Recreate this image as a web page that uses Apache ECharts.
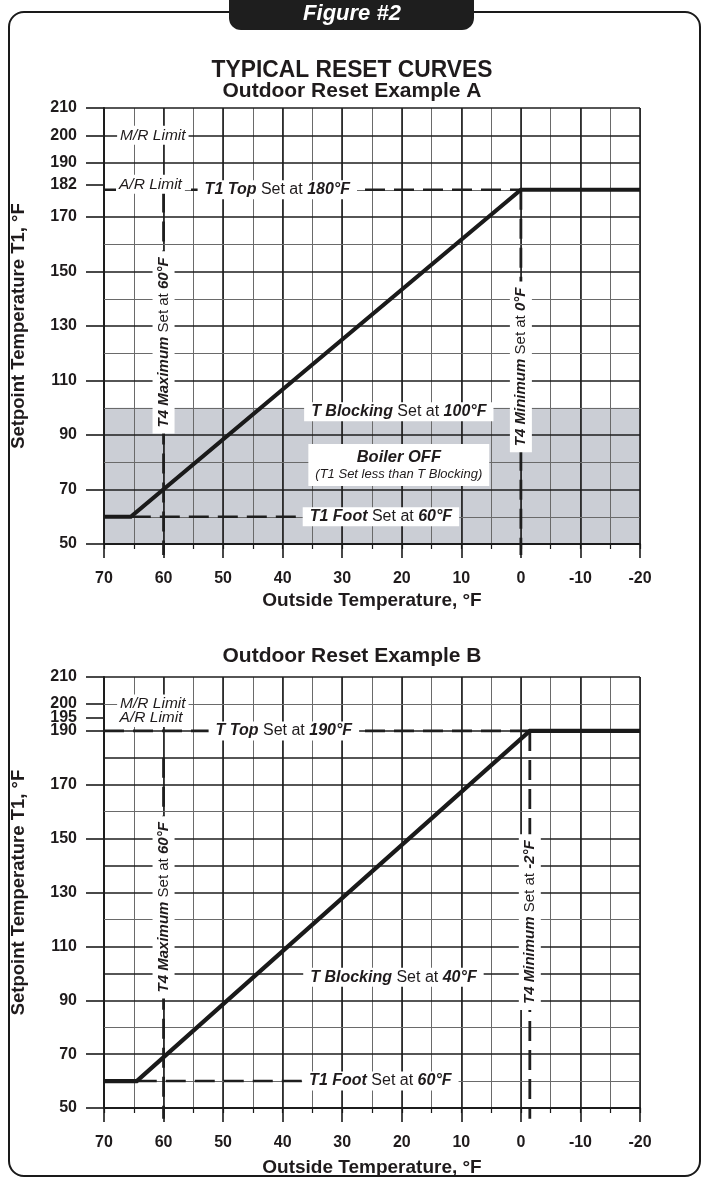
<!DOCTYPE html>
<html><head><meta charset="utf-8">
<script src="https://cdn.jsdelivr.net/npm/echarts@6/dist/echarts.min.js"></script>
<style>html,body{margin:0;padding:0;background:#fff}#c{width:704px;height:1179px}</style>
</head><body><div id="c"></div>
<script>
const FONT = "'Liberation Sans', Arial, Helvetica, sans-serif";
const INK = '#1f1b1c';

// shared axes
const xTickLabels = [70, 60, 50, 40, 30, 20, 10, 0, -10, -20];
const xMin = -20, xMax = 70;
const yMin = 50, yMax = 210;

// ---- Example A ----
const yLabelsA = [50, 70, 90, 110, 130, 150, 170, 182, 190, 200, 210];
const gridMajorA = [50, 70, 90, 110, 130, 150, 170, 190, 200, 210];
const gridMinorA = [60, 80, 100, 120, 140, 160, 180];
const resetCurveA = [[70, 60], [65.5, 60], [0, 180], [-20, 180]];
const topDashA = [[70, 180], [0, 180]];
const footDashA = [[65.5, 60], [30, 60]];
const t4MaxDashA = [[60, 179], [60, 46]];
const t4MinDashA = [[0, 180], [0, 46]];
const blockingAreaA = [50, 100];
const notesA = [
  [61.8, 200, 'M/R Limit'],
  [62.2, 182, 'A/R Limit'],
  [40.9, 180, 'T1 Top', '180°F'],
  [60, 124, 'T4 Maximum', '60°F'],
  [0, 115, 'T4 Minimum', '0°F'],
  [20.5, 98.5, 'T Blocking', '100°F'],
  [23.5, 60, 'T1 Foot', '60°F']
];
const boilerNoteA = [20.5, 79, 'Boiler OFF', '(T1 Set less than T Blocking)'];

// ---- Example B ----
const yLabelsB = [50, 70, 90, 110, 130, 150, 170, 190, 195, 200, 210];
const gridMajorB = [50, 70, 90, 100, 110, 130, 140, 150, 170, 180, 190, 210];
const gridMinorB = [60, 80, 120, 160, 200];
const resetCurveB = [[70, 60], [64.5, 60], [-1.5, 190], [-20, 190]];
const topDashB = [[70, 190], [-1.5, 190]];
const footDashB = [[64.5, 60], [30, 60]];
const t4MaxDashB = [[60, 180], [60, 46]];
const t4MinDashB = [[-1.5, 190], [-1.5, 46]];
const notesB = [
  [61.8, 200, 'M/R Limit'],
  [62.1, 195, 'A/R Limit'],
  [39.8, 190, 'T Top', '190°F'],
  [60, 124.5, 'T4 Maximum', '60°F'],
  [-1.5, 119, 'T4 Minimum', '-2°F'],
  [21.4, 98.5, 'T Blocking', '40°F'],
  [23.6, 60, 'T1 Foot', '60°F']
];

const rich = {
  b: { fontFamily: FONT, fontSize: 16, fontWeight: 'bold', fontStyle: 'italic', color: INK, lineHeight: 17 },
  n: { fontFamily: FONT, fontSize: 16, color: INK, lineHeight: 17 },
  vb: { fontFamily: FONT, fontSize: 15, fontWeight: 'bold', fontStyle: 'italic', color: INK, lineHeight: 16 },
  vn: { fontFamily: FONT, fontSize: 15, color: INK, lineHeight: 16 },
  i: { fontFamily: FONT, fontSize: 15.5, fontStyle: 'italic', color: INK, lineHeight: 15 },
  big: { fontFamily: FONT, fontSize: 16.5, fontWeight: 'bold', fontStyle: 'italic', color: INK, lineHeight: 19 },
  small: { fontFamily: FONT, fontSize: 13, fontStyle: 'italic', color: INK, lineHeight: 15 }
};

function noteItem(n) {
  const [x, y, a, b] = n;
  const vertical = a.indexOf('T4') === 0;
  let fmt, pad;
  if (b === undefined) { fmt = '{i|' + a + '}'; pad = [2, 3]; }
  else if (vertical) { fmt = '{vb|' + a + '}{vn| Set at }{vb|' + b + '}'; pad = [3, 6]; }
  else { fmt = '{b|' + a + '}{n| Set at }{b|' + b + '}'; pad = [1, 7]; }
  return {
    value: [x, y],
    label: { show: true, position: 'inside', formatter: fmt, rotate: vertical ? 90 : 0, opacity: 1,
      textBorderWidth: 0, backgroundColor: '#fff', padding: pad, align: 'center', verticalAlign: 'middle', rich: rich }
  };
}
function boilerItem(n) {
  return {
    value: [n[0], n[1]],
    label: { show: true, position: 'inside', formatter: '{big|' + n[2] + '}\n{small|' + n[3] + '}', opacity: 1,
      textBorderWidth: 0, backgroundColor: '#fff', padding: [4, 7], align: 'center', verticalAlign: 'middle', rich: rich }
  };
}

const grids = [
  { left: 104, top: 108, width: 536, height: 436 },
  { left: 104, top: 677, width: 536, height: 431 }
];

function xAxes(gi, nameGap) {
  return [
    { gridIndex: gi, type: 'value', inverse: true, min: xMin, max: xMax, interval: 10, position: 'bottom', z: 1,
      name: 'Outside Temperature, °F', nameLocation: 'middle', nameGap: nameGap,
      nameTextStyle: { fontFamily: FONT, fontSize: 19, fontWeight: 'bold', color: INK },
      axisLine: { onZero: false, lineStyle: { color: '#1a1a1a', width: 2 } },
      axisTick: { show: true, length: 14, lineStyle: { color: '#1a1a1a', width: 1.6 } },
      axisLabel: { customValues: xTickLabels, margin: 27, fontFamily: FONT, fontSize: 16, fontWeight: 'bold', color: INK },
      splitLine: { show: true, lineStyle: { color: '#1e1e1e', width: 1.6 } } },
    { gridIndex: gi, type: 'value', inverse: true, min: xMin, max: xMax, interval: 5, position: 'bottom', z: 0,
      axisLine: { show: false, onZero: false },
      axisTick: { show: true, length: 5, lineStyle: { color: '#1a1a1a', width: 1.2 } },
      axisLabel: { show: false },
      splitLine: { show: true, lineStyle: { color: '#6a6a6a', width: 1 } } }
  ];
}
function yAxis(gi, labels) {
  return { gridIndex: gi, type: 'value', min: yMin, max: yMax,
    name: 'Setpoint Temperature T1, °F', nameLocation: 'middle', nameGap: 76,
    nameTextStyle: { fontFamily: FONT, fontSize: 18.5, fontWeight: 'bold', color: INK },
    axisLine: { show: true, onZero: false, lineStyle: { color: '#1a1a1a', width: 2 } },
    axisTick: { show: true, customValues: labels, length: 18, lineStyle: { color: '#1a1a1a', width: 1.6 } },
    axisLabel: { customValues: labels, margin: 27, fontFamily: FONT, fontSize: 16, fontWeight: 'bold', color: INK },
    splitLine: { show: false } };
}

function hLines(gi, major, minor) {
  const base = { type: 'line', xAxisIndex: gi * 2, yAxisIndex: gi, data: [], silent: true };
  return [
    Object.assign({}, base, { z: 1, markLine: { silent: true, z: 1, animation: false, symbol: ['none', 'none'],
      label: { show: false }, lineStyle: { type: 'solid', color: '#6a6a6a', width: 1 },
      data: minor.map(v => ({ yAxis: v })) } }),
    Object.assign({}, base, { z: 1, markLine: { silent: true, z: 1.2, animation: false, symbol: ['none', 'none'],
      label: { show: false }, lineStyle: { type: 'solid', color: '#1e1e1e', width: 1.6 },
      data: major.map(v => ({ yAxis: v })) } })
  ];
}
function dash(gi, data, w) {
  return { type: 'line', xAxisIndex: gi * 2, yAxisIndex: gi, data: data, symbol: 'none', clip: false, z: 2,
    silent: true, lineStyle: { color: '#1e1e1e', width: w || 2.6, type: [20, 9] } };
}
function curve(gi, data) {
  return { type: 'line', xAxisIndex: gi * 2, yAxisIndex: gi, data: data, symbol: 'none', clip: false, z: 3,
    silent: true, lineStyle: { color: '#1a1a1a', width: 4.2, cap: 'butt', join: 'miter' } };
}
function notes(gi, items) {
  return { type: 'scatter', xAxisIndex: gi * 2, yAxisIndex: gi, symbolSize: 1, z: 5, silent: true,
    itemStyle: { color: 'rgba(0,0,0,0)', opacity: 1 }, data: items };
}

const series = [
  { type: 'line', xAxisIndex: 0, yAxisIndex: 0, data: [], z: -1, silent: true,
    markArea: { silent: true, z: -1, itemStyle: { color: '#cbced5' },
      data: [[{ yAxis: blockingAreaA[0] }, { yAxis: blockingAreaA[1] }]] } },
  ...hLines(0, gridMajorA, gridMinorA),
  dash(0, topDashA), dash(0, footDashA), dash(0, t4MaxDashA, 2.8), dash(0, t4MinDashA, 2.8),
  curve(0, resetCurveA),
  notes(0, notesA.map(noteItem).concat([boilerItem(boilerNoteA)])),
  ...hLines(1, gridMajorB, gridMinorB),
  dash(1, topDashB), dash(1, footDashB), dash(1, t4MaxDashB, 2.8), dash(1, t4MinDashB, 2.8),
  curve(1, resetCurveB),
  notes(1, notesB.map(noteItem))
];

const chart = echarts.init(document.getElementById('c'), null, { renderer: 'canvas' });
chart.setOption({
  animation: false,
  backgroundColor: '#fff',
  grid: grids.map(g => Object.assign({ containLabel: false, outerBoundsMode: 'none' }, g)),
  xAxis: [...xAxes(0, 47), ...xAxes(1, 50)],
  yAxis: [yAxis(0, yLabelsA), yAxis(1, yLabelsB)],
  series: series,
  graphic: [
    { type: 'rect', z: 0, shape: { x: 9, y: 12, width: 691, height: 1164, r: 15 },
      style: { fill: 'none', stroke: '#1a1a1a', lineWidth: 2 } },
    { type: 'rect', z: 1, shape: { x: 229, y: -14, width: 245, height: 44, r: 12 },
      style: { fill: '#1e1e1e' } },
    { type: 'text', z: 2, x: 352, y: 14,
      style: { text: 'Figure #2', fill: '#fff', font: 'italic bold 22px ' + FONT, align: 'center', verticalAlign: 'middle' } },
    { type: 'text', z: 2, x: 352, y: 70, scaleX: 0.95,
      style: { text: 'TYPICAL RESET CURVES', fill: INK, font: 'bold 24px ' + FONT, align: 'center', verticalAlign: 'middle' } },
    { type: 'text', z: 2, x: 352, y: 91,
      style: { text: 'Outdoor Reset Example A', fill: INK, font: 'bold 21px ' + FONT, align: 'center', verticalAlign: 'middle' } },
    { type: 'text', z: 2, x: 352, y: 656,
      style: { text: 'Outdoor Reset Example B', fill: INK, font: 'bold 21px ' + FONT, align: 'center', verticalAlign: 'middle' } }
  ]
});
</script></body></html>
